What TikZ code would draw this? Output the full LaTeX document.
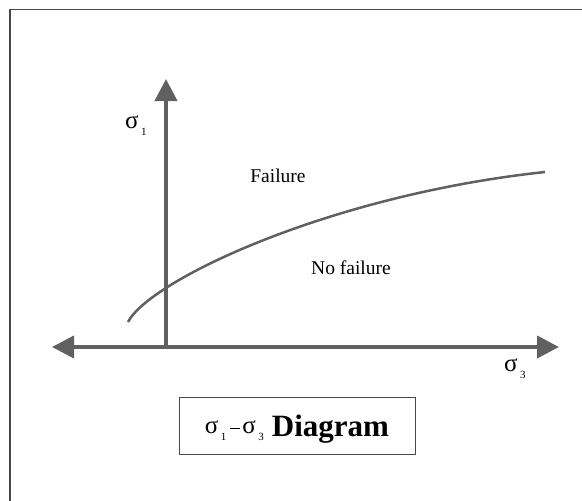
\documentclass[tikz,border=0pt]{standalone}
\usepackage{fontspec}
\setmainfont{Liberation Serif}
\usepackage{tikz}
\usetikzlibrary{arrows.meta,positioning}
\usepackage{xcolor}
\definecolor{axisgray}{RGB}{96,96,96}
\definecolor{framegray}{RGB}{70,70,70}
\newcommand{\sgm}[1]{{\fontsize{25}{25}\selectfont σ}\hspace{2.5pt}\raisebox{-7pt}{\fontsize{11}{11}\selectfont #1}}
\tikzset{
  axis/.style={draw=axisgray,line width=4pt,{Triangle[length=22pt,width=22pt]}-{Triangle[length=22pt,width=22pt]}},
  axisup/.style={draw=axisgray,line width=4pt,-{Triangle[length=22pt,width=22pt]}},
  envelope/.style={draw=axisgray,line width=2.5pt},
  lbl/.style={inner sep=0pt,font=\fontsize{19.5}{19.5}\selectfont},
  titlebox/.style={draw=framegray,line width=1pt,minimum width=236pt,minimum height=57pt,inner sep=0pt}
}
\begin{document}
\begin{tikzpicture}[x=1pt,y=-1pt]
\useasboundingbox (0,0) rectangle (582,501);
% frame
\draw[framegray,line width=1.2pt] (10,501) -- (10,9.5) -- (582,9.5);
% axes
\coordinate (O) at (166,347);
\coordinate (ytip) at (166,79);
\coordinate (xl) at (52,347);
\coordinate (xr) at (559,347);
\draw[axis] (xl) -- (xr);
\draw[axisup] (O) -- (ytip);
% failure envelope
\coordinate (env0) at (128,322);
\coordinate (env1) at (545,172);
\draw[envelope] (env0) .. controls (150,280) and (330,195) .. (env1);
% labels
\node[lbl,anchor=base west] (s1) at (125,128) {\sgm{1}};
\node[lbl,anchor=base west] (s3) at (504,371) {\sgm{3}};
\node[lbl] (fail) at (278,176) {Failure};
\node[lbl] (nofail) at (351,268) {No failure};
\node[titlebox] (title) at (297,425.5) {};
\node[inner sep=0pt,anchor=base] (titletext) at (297,436)
  {\raisebox{3pt}{\sgm{1}\hspace{4pt}\rule[4pt]{10pt}{1.5pt}\hspace{2pt}\sgm{3}}\hspace{8pt}{\fontsize{31}{31}\selectfont\bfseries Diagram}};
\end{tikzpicture}
\end{document}
